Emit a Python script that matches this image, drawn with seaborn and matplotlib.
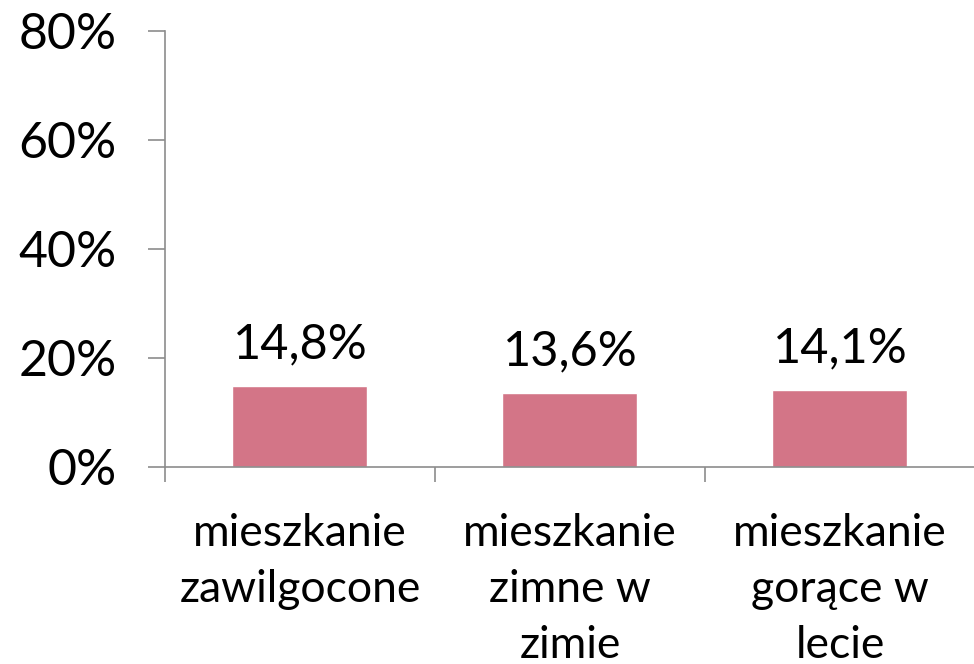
import seaborn as sns
import pandas as pd
import matplotlib.pyplot as plt
from matplotlib.ticker import FixedLocator

###################
# Data
categories = ["mieszkanie\nzawilgocone", "mieszkanie\nzimne w\nzimie", "mieszkanie\ngorące w\nlecie"]
values = [14.8, 13.6, 14.1]
y_ticks = [0, 20, 40, 60, 80]

data = pd.DataFrame({"kategoria": categories, "procent": values})

###################
# Setup
sns.set_style("white")
plt.rcParams["font.family"] = ["Lato", "DejaVu Sans"]
plt.rcParams["text.color"] = "black"
plt.rcParams["xtick.labelcolor"] = "black"
plt.rcParams["ytick.labelcolor"] = "black"

bar_color = "#D37587"
axis_color = "#8C8C8C"

fig = plt.figure(figsize=(9.74, 6.64), dpi=100)
ax = fig.add_axes([0.1694, 0.2967, 0.8316, 0.6567])

sns.barplot(data, ax=ax, x="kategoria", y="procent", color=bar_color, width=0.5, saturation=1)

ax.set_xlim(-0.5, 2.5)
ax.set_ylim(0, 80)
ax.set_yticks(y_ticks)
ax.set_yticklabels([f"{t}%" for t in y_ticks])
ax.tick_params(axis="y", labelsize=36, length=12, width=1.2, color=axis_color, pad=23,
               left=True, labelcolor="black")
ax.tick_params(axis="x", which="major", labelsize=32, length=0, pad=33, labelcolor="black")
ax.xaxis.set_minor_locator(FixedLocator([-0.5, 0.5, 1.5, 2.5]))
ax.tick_params(axis="x", which="minor", length=11, width=1.2, color=axis_color, bottom=True)
for lbl in ax.get_xticklabels():
    lbl.set_linespacing(1.45)
ax.set_xlabel("")
ax.set_ylabel("")

# value labels
for i, v in enumerate(values):
    ax.annotate(f"{v:.1f}%".replace(".", ","), (i, v), xytext=(0, 14), textcoords="offset points",
                ha="center", va="bottom", fontsize=35, color="black")

sns.despine(ax=ax, top=True, right=True)
for side in ["left", "bottom"]:
    ax.spines[side].set_color(axis_color)
    ax.spines[side].set_linewidth(1.2)

###################
# Export
fig.savefig("out.png", dpi=100)
